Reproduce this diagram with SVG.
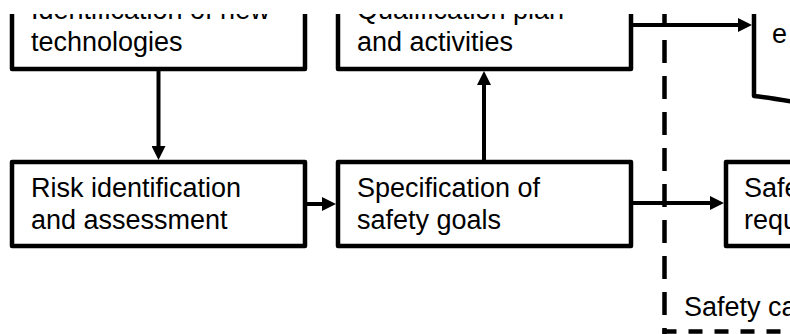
<svg xmlns="http://www.w3.org/2000/svg" width="790" height="334" viewBox="0 0 790 334">
  <style>
    .box { fill: #ffffff; stroke: #000000; stroke-width: 4.5; stroke-linejoin: round; }
    .lbl { font-family: "Liberation Sans", Arial, sans-serif; font-size: 27px; fill: #000000; }
    .wire { fill: none; stroke: #000000; stroke-width: 4; }
    .bound { fill: none; stroke: #000000; stroke-width: 4.5; }
  </style>
  <defs>
    <marker id="head" markerUnits="userSpaceOnUse" markerWidth="14" markerHeight="14" refX="8" refY="7" orient="auto">
      <path d="M0,0 L14,7 L0,14 z" fill="#000000"/>
    </marker>
    <clipPath id="frame">
      <rect x="0" y="14" width="790" height="320"/>
    </clipPath>
  </defs>
  <rect width="790" height="334" fill="#ffffff"/>

  <g clip-path="url(#frame)">
    <!-- safety case boundary -->
    <g id="boundary">
      <line class="bound" x1="664.5" y1="4" x2="664.5" y2="334" stroke-dasharray="23 13"/>
      <line class="bound" x1="662.5" y1="331.5" x2="790" y2="331.5" stroke-dasharray="14 12"/>
      <text class="lbl" x="684" y="316">Safety ca</text>
    </g>

    <g id="identification">
      <rect class="box" x="12" y="-20" width="293" height="89"/>
      <text class="lbl" x="31" y="19">Identification of new</text>
      <text class="lbl" x="31" y="51">technologies</text>
    </g>

    <g id="qualification">
      <rect class="box" x="338" y="-20" width="293" height="89"/>
      <text class="lbl" x="357" y="19">Qualification plan</text>
      <text class="lbl" x="357" y="51">and activities</text>
    </g>

    <g id="evidence">
      <path class="box" d="M754,-10 V96 Q772,98 800,103 V-10 Z"/>
      <text class="lbl" x="772" y="43">e</text>
    </g>

    <g id="risk">
      <rect class="box" x="12" y="162" width="293" height="84"/>
      <text class="lbl" x="31" y="197">Risk identification</text>
      <text class="lbl" x="31" y="229">and assessment</text>
    </g>

    <g id="goals">
      <rect class="box" x="338" y="162" width="293" height="84"/>
      <text class="lbl" x="357" y="197">Specification of</text>
      <text class="lbl" x="357" y="229">safety goals</text>
    </g>

    <g id="requirements">
      <rect class="box" x="726" y="162" width="80" height="84"/>
      <text class="lbl" x="744" y="197">Safe</text>
      <text class="lbl" x="744" y="229">requ</text>
    </g>

    <g id="connectors">
      <line class="wire" x1="158.5" y1="71" x2="158.5" y2="154" marker-end="url(#head)"/>
      <line class="wire" x1="307" y1="204" x2="330" y2="204" marker-end="url(#head)"/>
      <line class="wire" x1="484" y1="160" x2="484" y2="77" marker-end="url(#head)"/>
      <line class="wire" x1="631" y1="25" x2="746" y2="25" marker-end="url(#head)"/>
      <line class="wire" x1="633" y1="203" x2="718" y2="203" marker-end="url(#head)"/>
    </g>
  </g>
</svg>
